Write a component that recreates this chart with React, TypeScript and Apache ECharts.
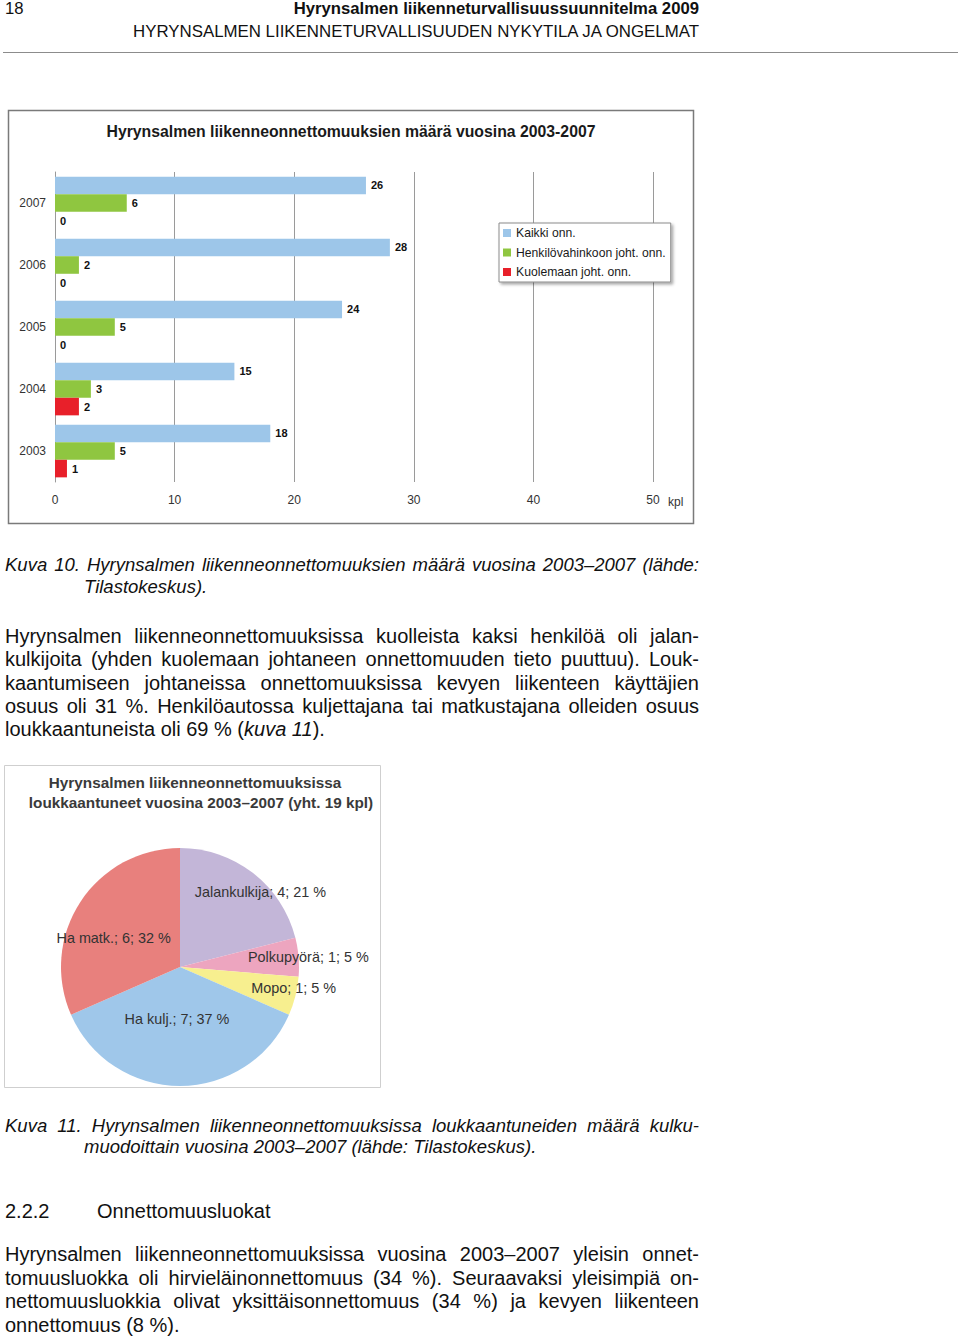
import React, { useEffect, useRef } from "react";
import * as echarts from "echarts";

const FONT = '"Liberation Sans", Arial, Helvetica, sans-serif';

// ---- Bar chart data ----
const years = ["2003", "2004", "2005", "2006", "2007"];
const kaikkiOnn = [18, 15, 24, 28, 26];
const henkiloOnn = [5, 3, 5, 2, 6];
const kuolemaOnn = [1, 2, 0, 0, 0];
const barSeriesNames = ["Kaikki onn.", "Henkilövahinkoon joht. onn.", "Kuolemaan joht. onn."];
const barColors = ["#9dc6e9", "#8fc640", "#e8202a"];
const barTitle = "Hyrynsalmen liikenneonnettomuuksien määrä vuosina 2003-2007";

// ---- Pie chart data ----
const pieNames = ["Jalankulkija", "Polkupyörä", "Mopo", "Ha kulj.", "Ha matk."];
const pieValues = [4, 1, 1, 7, 6];
const pieColors = ["#c3b6d8", "#eda5bf", "#f7ef8f", "#9fc7ea", "#e8807d"];
const pieLabelShift = [[42, -26], [66, -5], [53, 6], [-3, -11], [-14, 5]];
const pieTitle1 = "Hyrynsalmen liikenneonnettomuuksissa";
const pieTitle2 = "loukkaantuneet vuosina 2003–2007 (yht. 19 kpl)";

function buildOption() {
  return {
    animation: false,
    textStyle: { fontFamily: FONT },
    grid: { left: 55, right: 307, top: 172, bottom: 856, containLabel: false },
    xAxis: {
      type: "value",
      min: 0,
      max: 50,
      interval: 10,
      axisLine: { show: false },
      axisTick: { show: false },
      splitLine: { show: true, lineStyle: { color: "#9a9a9a", width: 1 } },
      axisLabel: { margin: 12, fontSize: 12, color: "#333" },
    },
    yAxis: {
      type: "category",
      data: years,
      axisLine: { show: true, lineStyle: { color: "#9a9a9a", width: 1 } },
      axisTick: { show: false },
      axisLabel: { margin: 9, fontSize: 12, color: "#333" },
    },
    legend: {
      orient: "vertical",
      left: 499,
      top: 223,
      data: barSeriesNames,
      icon: "rect",
      itemWidth: 8,
      itemHeight: 8,
      itemGap: 5.5,
      padding: [3, 5, 3, 4],
      borderColor: "#8a8a8a",
      borderWidth: 1,
      backgroundColor: "#fff",
      shadowColor: "rgba(0,0,0,0.35)",
      shadowBlur: 3,
      shadowOffsetX: 2,
      shadowOffsetY: 2,
      selectedMode: false,
      textStyle: { fontSize: 12.2, color: "#1a1a1a", lineHeight: 14 },
    },
    series: [
      ...[kaikkiOnn, henkiloOnn, kuolemaOnn].map((d, i) => ({
        type: "bar",
        name: barSeriesNames[i],
        data: d,
        barGap: "0%",
        barCategoryGap: "15%",
        itemStyle: { color: barColors[i] },
        label: {
          show: true,
          position: "right",
          distance: 5,
          fontSize: 11,
          fontWeight: "bold",
          color: "#111",
        },
        silent: true,
      })),
      {
        type: "pie",
        center: [180, 967],
        radius: 119,
        startAngle: 90,
        clockwise: true,
        percentPrecision: 0,
        avoidLabelOverlap: false,
        silent: true,
        data: pieNames.map((n, i) => ({
          name: n,
          value: pieValues[i],
          itemStyle: { color: pieColors[i] },
        })),
        label: {
          show: true,
          position: "inside",
          formatter: "{b}; {c}; {d} %",
          fontSize: 14.4,
          color: "#333",
        },
        labelLine: { show: false },
        labelLayout: (p: any) => ({
          dx: pieLabelShift[p.dataIndex][0],
          dy: pieLabelShift[p.dataIndex][1],
        }),
      },
    ],
    graphic: [
      {
        type: "line",
        shape: { x1: 3, y1: 52.5, x2: 958, y2: 52.5 },
        style: { stroke: "#8c8c8c", lineWidth: 1 },
      },
      {
        type: "rect",
        shape: { x: 8.5, y: 110.5, width: 685, height: 413 },
        style: { fill: "none", stroke: "#7a7a7a", lineWidth: 1.5 },
        z: -1,
      },
      {
        type: "text",
        x: 351,
        y: 131,
        style: {
          text: barTitle,
          fontFamily: FONT,
          fontSize: 15.8,
          fontWeight: "bold",
          fill: "#1a1a1a",
          textAlign: "center",
          textVerticalAlign: "middle",
        },
      },
      {
        type: "text",
        x: 668,
        y: 502,
        style: {
          text: "kpl",
          fontFamily: FONT,
          fontSize: 12,
          fill: "#333",
          textAlign: "left",
          textVerticalAlign: "middle",
        },
      },
      {
        type: "rect",
        shape: { x: 4.5, y: 765.5, width: 376, height: 322 },
        style: { fill: "none", stroke: "#cfcfcf", lineWidth: 1 },
      },
      {
        type: "text",
        x: 195,
        y: 782,
        style: {
          text: pieTitle1,
          fontFamily: FONT,
          fontSize: 15.3,
          fontWeight: "bold",
          fill: "#3a3a3a",
          textAlign: "center",
          textVerticalAlign: "middle",
        },
      },
      {
        type: "text",
        x: 201,
        y: 802,
        style: {
          text: pieTitle2,
          fontFamily: FONT,
          fontSize: 15.3,
          fontWeight: "bold",
          fill: "#3a3a3a",
          textAlign: "center",
          textVerticalAlign: "middle",
        },
      },
    ],
  };
}

type LineProps = {
  y: number;
  left?: number;
  width?: number;
  justify?: boolean;
  size?: number;
  italic?: boolean;
  bold?: boolean;
  align?: "left" | "right" | "center";
  children: React.ReactNode;
};

function Line({ y, left = 5, width = 694, justify = false, size = 20, italic = false, bold = false, align = "left", children }: LineProps) {
  const lh = Math.round(size * 1.2);
  return (
    <div
      style={{
        position: "absolute",
        left,
        top: y - lh / 2,
        width,
        lineHeight: lh + "px",
        fontSize: size,
        fontStyle: italic ? "italic" : "normal",
        fontWeight: bold ? "bold" : "normal",
        textAlign: justify ? "justify" : align,
        textAlignLast: justify ? "justify" : (align as any),
        whiteSpace: justify ? "normal" : "nowrap",
        color: "#111",
        fontFamily: FONT,
      }}
    >
      {children}
    </div>
  );
}

export default function App() {
  const ref = useRef<HTMLDivElement>(null);
  useEffect(() => {
    const chart = echarts.init(ref.current!, null, { renderer: "svg" });
    chart.setOption(buildOption() as any);
    return () => chart.dispose();
  }, []);

  return (
    <div
      style={{
        position: "absolute",
        left: 0,
        top: 0,
        width: 960,
        height: 1338,
        background: "#fff",
        overflow: "hidden",
        fontFamily: FONT,
      }}
    >
      <div ref={ref} style={{ position: "absolute", left: 0, top: 0, width: 960, height: 1338 }} />

      <Line y={9} size={16.7}>18</Line>
      <Line y={9} left={0} width={699} size={16.7} bold align="right">
        Hyrynsalmen liikenneturvallisuussuunnitelma 2009
      </Line>
      <Line y={32} left={0} width={699} size={16.85} align="right">
        HYRYNSALMEN LIIKENNETURVALLISUUDEN NYKYTILA JA ONGELMAT
      </Line>

      <Line y={565} size={18.5} italic justify>
        Kuva 10. Hyrynsalmen liikenneonnettomuuksien määrä vuosina 2003–2007 (lähde:
      </Line>
      <Line y={587} left={84} size={18.5} italic>
        Tilastokeskus).
      </Line>

      <Line y={636} justify>Hyrynsalmen liikenneonnettomuuksissa kuolleista kaksi henkilöä oli jalan-</Line>
      <Line y={659} justify>kulkijoita (yhden kuolemaan johtaneen onnettomuuden tieto puuttuu). Louk-</Line>
      <Line y={683} justify>kaantumiseen johtaneissa onnettomuuksissa kevyen liikenteen käyttäjien</Line>
      <Line y={706} justify>osuus oli 31 %. Henkilöautossa kuljettajana tai matkustajana olleiden osuus</Line>
      <Line y={729}>
        loukkaantuneista oli 69 % (<i>kuva 11</i>).
      </Line>

      <Line y={1126} size={18.5} italic justify>
        Kuva 11. Hyrynsalmen liikenneonnettomuuksissa loukkaantuneiden määrä kulku-
      </Line>
      <Line y={1147} left={84} size={18.5} italic>
        muodoittain vuosina 2003–2007 (lähde: Tilastokeskus).
      </Line>

      <Line y={1211}>2.2.2</Line>
      <Line y={1211} left={97}>Onnettomuusluokat</Line>

      <Line y={1254} justify>Hyrynsalmen liikenneonnettomuuksissa vuosina 2003–2007 yleisin onnet-</Line>
      <Line y={1278} justify>tomuusluokka oli hirvieläinonnettomuus (34 %). Seuraavaksi yleisimpiä on-</Line>
      <Line y={1301} justify>nettomuusluokkia olivat yksittäisonnettomuus (34 %) ja kevyen liikenteen</Line>
      <Line y={1325}>onnettomuus (8 %).</Line>
    </div>
  );
}
